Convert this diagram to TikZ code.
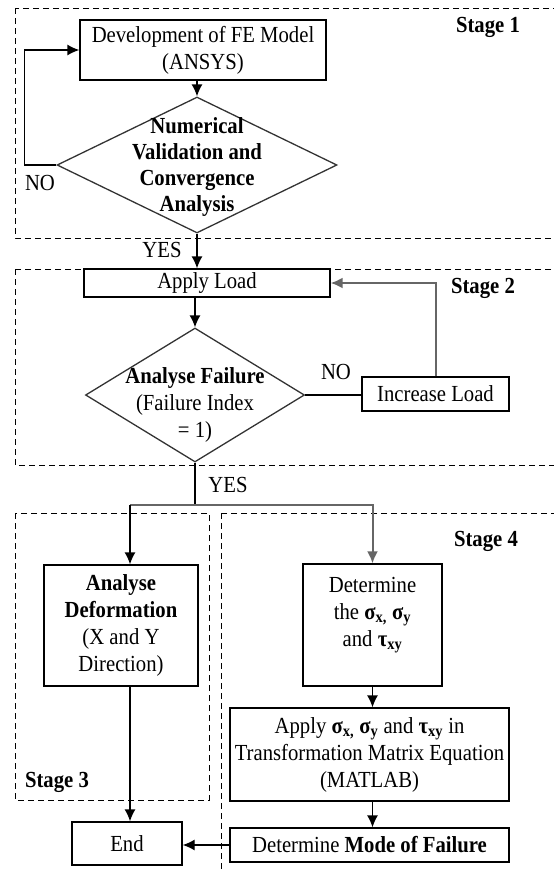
\documentclass[tikz,border=0pt]{standalone}
\usepackage{fontspec}
\setmainfont{Liberation Serif}[FakeStretch=0.9]
\usepackage{tikz}
\usetikzlibrary{shapes.geometric,arrows.meta,positioning}

\begin{document}
\begin{tikzpicture}[
  x=1pt, y=-1pt,
  every node/.style={font=\fontsize{23}{27}\selectfont},
  box/.style={rectangle, draw=black, line width=1.3pt, align=center, inner sep=0pt},
  dec/.style={diamond, draw=black!80, line width=1.3pt, inner sep=0pt, aspect=2},
  txt/.style={align=center, inner sep=0pt},
  stage/.style={draw=black, line width=1pt, dash pattern=on 6pt off 4pt},
  lbl/.style={font=\fontsize{23}{27}\selectfont\bfseries, inner sep=0pt},
  ar/.style={-{Latex[length=12pt,width=11pt]}, line width=1.3pt},
  gar/.style={ar, draw=black!60, line width=2pt}
]
  \clip (0,0) rectangle (554,871);
  \draw[stage] (15,8) rectangle (562,238);
  \draw[stage] (15,269) rectangle (562,465);
  \draw[stage] (15,513) rectangle (209,800);
  \draw[stage] (221,513) rectangle (562,880);

  \node[lbl] (s1) at (488,27) {Stage 1};
  \node[lbl] (s2) at (483,288) {Stage 2};
  \node[lbl] (s3) at (57,782) {Stage 3};
  \node[lbl] (s4) at (486,541) {Stage 4};

  \node[box, minimum width=246pt, minimum height=60pt] (fe) at (203,50) {Development of FE Model\\(ANSYS)};
  \node[dec, minimum width=280pt, minimum height=136pt] (d1) at (197,165) {};
  \node[txt, font=\fontsize{23}{26}\selectfont\bfseries] (t1) at (197,167) {Numerical\\Validation and\\Convergence\\Analysis};
  \node[box, minimum width=246pt, minimum height=28pt] (apply) at (207,283) {Apply Load};
  \node[dec, minimum width=219pt, minimum height=134pt] (d2) at (195,395) {};
  \node[txt] (t2) at (195,405) {\textbf{Analyse Failure}\\(Failure Index\\= 1)};
  \node[box, minimum width=147pt, minimum height=34pt] (inc) at (435.5,394) {Increase Load};
  \node[box, minimum width=154pt, minimum height=121pt] (defo) at (121,625.5) {\textbf{Analyse}\\\textbf{Deformation}\\(X and Y\\Direction)};
  \node[box, minimum width=139pt, minimum height=122pt] (det) at (372.5,625) {};
  \node[txt] (dett) at (372.5,615) {Determine\\the \textbf{σ\textsubscript{x,} σ\textsubscript{y}}\\and \textbf{τ\textsubscript{xy}}};
  \node[box, minimum width=279pt, minimum height=93pt] (mat) at (369.5,754.5) {Apply \textbf{σ\textsubscript{x,} σ\textsubscript{y}} and \textbf{τ\textsubscript{xy}} in\\Transformation Matrix Equation\\(MATLAB)};
  \node[box, minimum width=279pt, minimum height=34pt] (mode) at (369.5,845) {Determine \textbf{Mode of Failure}};
  \node[box, minimum width=110pt, minimum height=43pt] (endn) at (127,843.5) {End};

  \node[txt] (no1) at (40,183) {NO};
  \node[txt] (yes1) at (162,250) {YES};
  \node[txt] (no2) at (336,372) {NO};
  \node[txt] (yes2) at (228,485) {YES};

  \coordinate (split) at (195,505);
  \coordinate (lft) at (130,505);

  \draw[ar] (d1.north |- fe.south) -- (d1.north);
  \draw[ar] (d1.west) -- ++(-32,0) |- (fe.west);
  \draw[ar] (d1.south) -- (d1.south |- apply.north);
  \draw[ar] (d2.north |- apply.south) -- (d2.north);
  \draw[line width=1.3pt] (d2.east) -- (d2.east -| inc.west);
  \draw[gar] (inc.north) |- (apply.east);
  \draw[line width=1.3pt] (d2.south) -- (split);
  \draw[draw=black!60, line width=2pt] (lft) -- (split);
  \draw[ar] (lft) -- (lft |- defo.north);
  \draw[gar] (split) -| (det.north);
  \draw[ar] (det.south) -- (det.south |- mat.north);
  \draw[ar] (det.south |- mat.south) -- (det.south |- mode.north);
  \draw[ar] (mode.west) -- (mode.west -| endn.east);
  \draw[ar] (lft |- defo.south) -- (lft |- endn.north);
\end{tikzpicture}
\end{document}
